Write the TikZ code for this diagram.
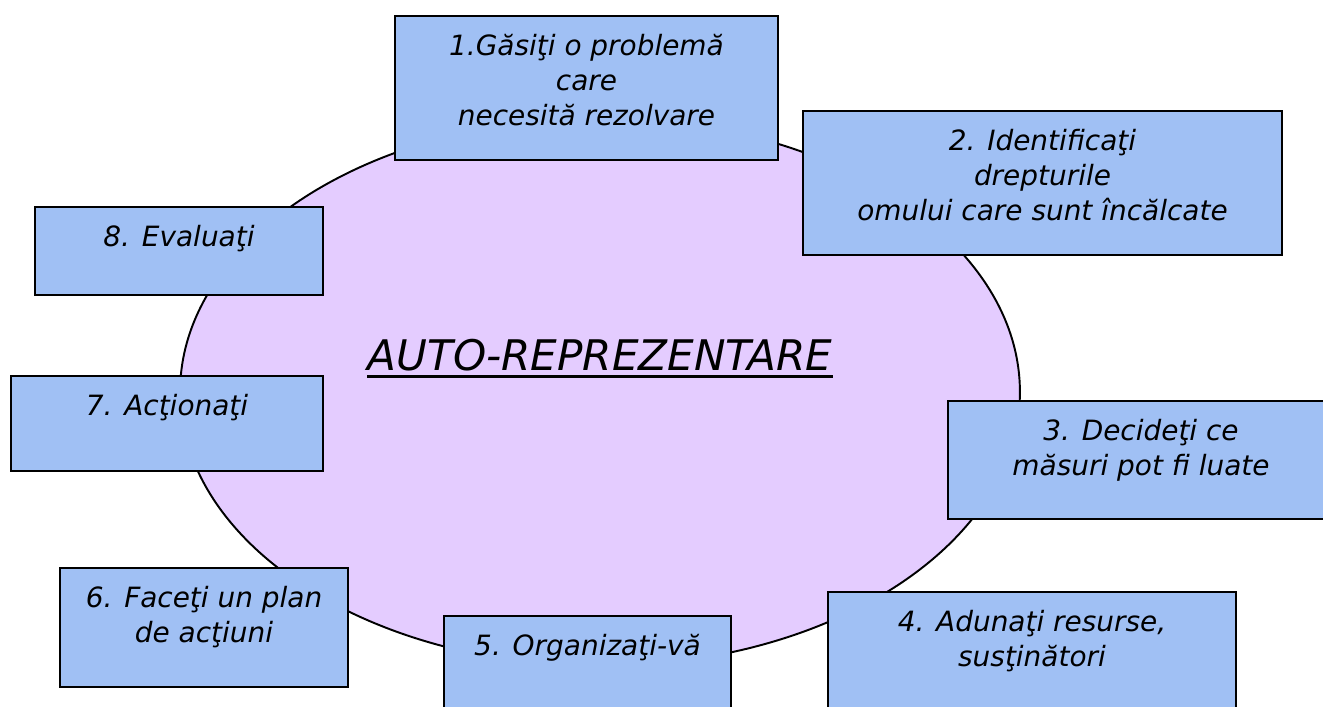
\documentclass[tikz,border=0pt]{standalone}
\usepackage{fontspec}
\setmainfont{DejaVu Sans}
\usepackage{tikz}
\usetikzlibrary{positioning, shapes.geometric}

\definecolor{stepblue}{HTML}{A0C0F4}
\definecolor{ovallilac}{HTML}{E4CCFF}
\tikzset{
  stepbox/.style={draw=black, line width=1.2pt, fill=stepblue, rectangle, inner sep=0pt},
  steptext/.style={anchor=north, align=center, inner sep=0pt, font=\fontsize{15.9}{20}\selectfont\itshape},
}

\begin{document}
\begin{tikzpicture}[x=0.02cm, y=-0.02cm]
      \useasboundingbox (0,0) rectangle (1323,707);
      \clip (0,0) rectangle (1323,707);
      % Central oval
      \node[draw, ellipse, line width=1.1pt, fill=ovallilac, minimum width=16.8cm, minimum height=10.96cm, inner sep=0pt] (oval) at (600,392) {};
      \node[inner sep=0pt, anchor=base, font=\fontsize{24}{28}\selectfont\itshape] (title) at (600,370) {AUTO-REPREZENTARE};
      \draw[line width=1.6pt] ([yshift=-3pt]title.south west) -- ([yshift=-3pt]title.south east);
      % Step boxes
      \node[stepbox, minimum width=7.66cm, minimum height=2.88cm] (s1) at (586.5,88) {};
      \node[stepbox, minimum width=9.58cm, minimum height=2.88cm] (s2) at (1042.5,183) {};
      \node[stepbox, minimum width=7.72cm, minimum height=2.36cm] (s3) at (1141,460) {};
      \node[stepbox, minimum width=8.16cm, minimum height=2.8cm] (s4) at (1032,662) {};
      \node[stepbox, minimum width=5.74cm, minimum height=2.4cm] (s5) at (587.5,676) {};
      \node[stepbox, minimum width=5.76cm, minimum height=2.38cm] (s6) at (204,627.5) {};
      \node[stepbox, minimum width=6.24cm, minimum height=1.9cm] (s7) at (167,423.5) {};
      \node[stepbox, minimum width=5.76cm, minimum height=1.76cm] (s8) at (179,251) {};
      % Step texts
      \node[steptext, below=0.38cm of s1.north] (t1) {1.Găsiţi o problemă\\care\\necesită rezolvare};
      \node[steptext, below=0.38cm of s2.north] (t2) {2. Identificaţi\\drepturile\\omului care sunt încălcate};
      \node[steptext, below=0.38cm of s3.north] (t3) {3. Decideţi ce\\măsuri pot fi luate};
      \node[steptext, below=0.38cm of s4.north] (t4) {4. Adunaţi resurse,\\susţinători};
      \node[steptext, below=0.38cm of s5.north] (t5) {5. Organizaţi-vă};
      \node[steptext, below=0.38cm of s6.north] (t6) {6. Faceţi un plan\\de acţiuni};
      \node[steptext, below=0.38cm of s7.north] (t7) {7. Acţionaţi};
      \node[steptext, below=0.38cm of s8.north] (t8) {8. Evaluaţi};
    \end{tikzpicture}
\end{document}
